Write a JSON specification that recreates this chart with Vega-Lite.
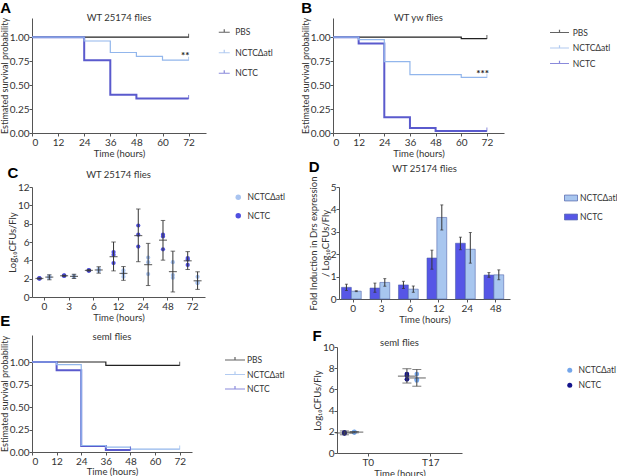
{
  "$schema": "https://vega.github.io/schema/vega-lite/v6.json",
  "background": "white",
  "padding": {"left": 0, "top": 0, "right": 0, "bottom": 0},
  "config": {
    "font": "Lato",
    "view": {"stroke": null},
    "axis": {"grid": false, "labelFontSize": 10, "titleFontSize": 9.5, "titleFontWeight": "normal", "tickSize": 3, "domainColor": "#555", "tickColor": "#555", "labelColor": "#333", "titleColor": "#333", "labelPadding": 1, "titlePadding": 1},
    "axisY": {"labelPadding": 0, "titlePadding": 0},
    "title": {"fontSize": 9.5, "fontWeight": "normal", "color": "#333"},
    "legend": {"labelFontSize": 8.5, "labelColor": "#333", "padding": 0}
  },
  "datasets": {
    "survA": [
      {"g": "PBS", "t": 0, "s": 1}, {"g": "PBS", "t": 72, "s": 1, "c": 1},
      {"g": "NCTCΔatl", "t": 0, "s": 1}, {"g": "NCTCΔatl", "t": 24, "s": 0.96}, {"g": "NCTCΔatl", "t": 36, "s": 0.84}, {"g": "NCTCΔatl", "t": 48, "s": 0.8}, {"g": "NCTCΔatl", "t": 60, "s": 0.76}, {"g": "NCTCΔatl", "t": 72, "s": 0.76, "c": 1},
      {"g": "NCTC", "t": 0, "s": 1}, {"g": "NCTC", "t": 24, "s": 0.76}, {"g": "NCTC", "t": 36, "s": 0.4}, {"g": "NCTC", "t": 48, "s": 0.36}, {"g": "NCTC", "t": 72, "s": 0.36, "c": 1}
    ],
    "survB": [
      {"g": "PBS", "t": 0, "s": 1}, {"g": "PBS", "t": 60, "s": 0.985}, {"g": "PBS", "t": 72, "s": 0.985, "c": 1},
      {"g": "NCTCΔatl", "t": 0, "s": 1}, {"g": "NCTCΔatl", "t": 12, "s": 0.975}, {"g": "NCTCΔatl", "t": 24, "s": 0.745}, {"g": "NCTCΔatl", "t": 36, "s": 0.61}, {"g": "NCTCΔatl", "t": 60, "s": 0.58}, {"g": "NCTCΔatl", "t": 72, "s": 0.58, "c": 1},
      {"g": "NCTC", "t": 0, "s": 1}, {"g": "NCTC", "t": 12, "s": 0.935}, {"g": "NCTC", "t": 24, "s": 0.165}, {"g": "NCTC", "t": 36, "s": 0.053}, {"g": "NCTC", "t": 48, "s": 0.02}, {"g": "NCTC", "t": 72, "s": 0.02, "c": 1}
    ],
    "survE": [
      {"g": "PBS", "t": 0, "s": 1}, {"g": "PBS", "t": 36, "s": 0.963}, {"g": "PBS", "t": 72, "s": 0.963, "c": 1},
      {"g": "NCTCΔatl", "t": 0, "s": 1}, {"g": "NCTCΔatl", "t": 12, "s": 0.97}, {"g": "NCTCΔatl", "t": 24, "s": 0.072}, {"g": "NCTCΔatl", "t": 36, "s": 0.055}, {"g": "NCTCΔatl", "t": 48, "s": 0.033}, {"g": "NCTCΔatl", "t": 72, "s": 0.033, "c": 1},
      {"g": "NCTC", "t": 0, "s": 1}, {"g": "NCTC", "t": 12, "s": 0.908}, {"g": "NCTC", "t": 24, "s": 0.066}, {"g": "NCTC", "t": 36, "s": 0.022}, {"g": "NCTC", "t": 48, "s": 0.022, "c": 1}
    ],
    "cfuC": [
      {"time": 0, "g": "NCTC", "v": 2.0}, {"time": 0, "g": "NCTC", "v": 2.02}, {"time": 0, "g": "NCTC", "v": 2.05},
      {"time": 0, "g": "NCTCΔatl", "v": 2.1}, {"time": 0, "g": "NCTCΔatl", "v": 2.15}, {"time": 0, "g": "NCTCΔatl", "v": 2.25},
      {"time": 3, "g": "NCTC", "v": 2.3}, {"time": 3, "g": "NCTC", "v": 2.32}, {"time": 3, "g": "NCTC", "v": 2.35},
      {"time": 3, "g": "NCTCΔatl", "v": 2.2}, {"time": 3, "g": "NCTCΔatl", "v": 2.25}, {"time": 3, "g": "NCTCΔatl", "v": 2.3},
      {"time": 6, "g": "NCTC", "v": 2.86}, {"time": 6, "g": "NCTC", "v": 2.9}, {"time": 6, "g": "NCTC", "v": 2.93},
      {"time": 6, "g": "NCTCΔatl", "v": 2.85}, {"time": 6, "g": "NCTCΔatl", "v": 2.95}, {"time": 6, "g": "NCTCΔatl", "v": 3.05},
      {"time": 12, "g": "NCTC", "v": 4.9}, {"time": 12, "g": "NCTC", "v": 4.6}, {"time": 12, "g": "NCTC", "v": 3.7},
      {"time": 12, "g": "NCTCΔatl", "v": 2.9}, {"time": 12, "g": "NCTCΔatl", "v": 2.6}, {"time": 12, "g": "NCTCΔatl", "v": 2.2},
      {"time": 24, "g": "NCTC", "v": 7.8}, {"time": 24, "g": "NCTC", "v": 6.8}, {"time": 24, "g": "NCTC", "v": 5.5},
      {"time": 24, "g": "NCTCΔatl", "v": 4.3}, {"time": 24, "g": "NCTCΔatl", "v": 3.8}, {"time": 24, "g": "NCTCΔatl", "v": 2.5},
      {"time": 48, "g": "NCTC", "v": 6.8}, {"time": 48, "g": "NCTC", "v": 6.6}, {"time": 48, "g": "NCTC", "v": 5.2},
      {"time": 48, "g": "NCTCΔatl", "v": 3.8}, {"time": 48, "g": "NCTCΔatl", "v": 2.4}, {"time": 48, "g": "NCTCΔatl", "v": 2.1},
      {"time": 72, "g": "NCTC", "v": 4.25}, {"time": 72, "g": "NCTC", "v": 4.1}, {"time": 72, "g": "NCTC", "v": 3.5},
      {"time": 72, "g": "NCTCΔatl", "v": 2.2}, {"time": 72, "g": "NCTCΔatl", "v": 1.6}, {"time": 72, "g": "NCTCΔatl", "v": 1.5}
    ],
    "sumC": [
      {"time": 0, "g": "NCTC", "m": 2.02, "lo": 1.96, "hi": 2.08}, {"time": 0, "g": "NCTCΔatl", "m": 2.17, "lo": 1.88, "hi": 2.42},
      {"time": 3, "g": "NCTC", "m": 2.32, "lo": 2.26, "hi": 2.38}, {"time": 3, "g": "NCTCΔatl", "m": 2.25, "lo": 2.02, "hi": 2.48},
      {"time": 6, "g": "NCTC", "m": 2.9, "lo": 2.82, "hi": 2.98}, {"time": 6, "g": "NCTCΔatl", "m": 2.95, "lo": 2.6, "hi": 3.3},
      {"time": 12, "g": "NCTC", "m": 4.4, "lo": 2.85, "hi": 6.0}, {"time": 12, "g": "NCTCΔatl", "m": 2.57, "lo": 1.82, "hi": 3.32},
      {"time": 24, "g": "NCTC", "m": 6.7, "lo": 3.85, "hi": 9.6}, {"time": 24, "g": "NCTCΔatl", "m": 3.53, "lo": 1.25, "hi": 5.85},
      {"time": 48, "g": "NCTC", "m": 6.2, "lo": 4.02, "hi": 8.35}, {"time": 48, "g": "NCTCΔatl", "m": 2.77, "lo": 0.55, "hi": 5.0},
      {"time": 72, "g": "NCTC", "m": 3.95, "lo": 3.0, "hi": 4.95}, {"time": 72, "g": "NCTCΔatl", "m": 1.77, "lo": 0.83, "hi": 2.75}
    ],
    "drsD": [
      {"time": 0, "g": "NCTC", "v": 0.52, "lo": 0.38, "hi": 0.66}, {"time": 0, "g": "NCTCΔatl", "v": 0.35, "lo": 0.33, "hi": 0.37},
      {"time": 3, "g": "NCTC", "v": 0.49, "lo": 0.3, "hi": 0.71}, {"time": 3, "g": "NCTCΔatl", "v": 0.74, "lo": 0.57, "hi": 0.91},
      {"time": 6, "g": "NCTC", "v": 0.63, "lo": 0.47, "hi": 0.79}, {"time": 6, "g": "NCTCΔatl", "v": 0.44, "lo": 0.3, "hi": 0.58},
      {"time": 12, "g": "NCTC", "v": 1.83, "lo": 1.33, "hi": 2.18}, {"time": 12, "g": "NCTCΔatl", "v": 3.64, "lo": 3.08, "hi": 4.2},
      {"time": 24, "g": "NCTC", "v": 2.49, "lo": 2.2, "hi": 2.76}, {"time": 24, "g": "NCTCΔatl", "v": 2.22, "lo": 1.6, "hi": 2.97},
      {"time": 48, "g": "NCTC", "v": 1.07, "lo": 0.97, "hi": 1.18}, {"time": 48, "g": "NCTCΔatl", "v": 1.08, "lo": 0.86, "hi": 1.3}
    ],
    "cfuF": [
      {"time": "T0", "g": "NCTC", "v": 1.95}, {"time": "T0", "g": "NCTC", "v": 1.85}, {"time": "T0", "g": "NCTC", "v": 1.88},
      {"time": "T0", "g": "NCTCΔatl", "v": 1.93}, {"time": "T0", "g": "NCTCΔatl", "v": 1.97}, {"time": "T0", "g": "NCTCΔatl", "v": 2.0},
      {"time": "T17", "g": "NCTC", "v": 7.45}, {"time": "T17", "g": "NCTC", "v": 6.95}, {"time": "T17", "g": "NCTC", "v": 7.3},
      {"time": "T17", "g": "NCTCΔatl", "v": 7.45}, {"time": "T17", "g": "NCTCΔatl", "v": 6.95}, {"time": "T17", "g": "NCTCΔatl", "v": 6.85}
    ],
    "sumF": [
      {"time": "T0", "g": "NCTC", "m": 1.89, "lo": 1.72, "hi": 2.08}, {"time": "T0", "g": "NCTCΔatl", "m": 1.97, "lo": 1.9, "hi": 2.03},
      {"time": "T17", "g": "NCTC", "m": 7.25, "lo": 6.6, "hi": 7.95}, {"time": "T17", "g": "NCTCΔatl", "m": 7.08, "lo": 6.3, "hi": 7.88}
    ]
  },
  "resolve": {"scale": {"color": "independent"}, "legend": {"color": "independent"}},
  "spacing": 1,
  "vconcat": [
    {
      "spacing": 28,
      "resolve": {"scale": {"color": "independent"}, "legend": {"color": "independent"}},
      "hconcat": [
        {
          "title": {"text": "A", "anchor": "start", "frame": "bounds", "font": "Liberation Sans", "fontSize": 15, "fontWeight": "bold", "color": "#000", "offset": -3},
          "resolve": {"scale": {"color": "independent"}, "legend": {"color": "independent"}},
          "hconcat": [
            {
              "title": {"text": "WT 25174 flies", "offset": -5},
              "width": 174, "height": 115,
              "data": {"name": "survA"},
              "encoding": {
                "x": {"field": "t", "type": "quantitative", "scale": {"domain": [0, 80], "nice": false}, "axis": {"values": [0, 12, 24, 36, 48, 60, 72], "title": "Time (hours)"}},
                "y": {"field": "s", "type": "quantitative", "scale": {"domain": [0, 1.2], "nice": false}, "axis": {"values": [0, 0.25, 0.5, 0.75, 1], "format": ".2f", "title": "Estimated survival probability", "titleFontSize": 9}},
                "color": {"field": "g", "type": "nominal", "scale": {"domain": ["PBS", "NCTCΔatl", "NCTC"], "range": ["#222222", "#92b6ec", "#5a5acd"]},
                  "legend": {"title": null, "orient": "none", "legendX": 188, "legendY": 10, "symbolType": "M-2,0H2M0,0V-1.1", "symbolSize": 30, "symbolStrokeWidth": 1.2, "labelOffset": 6.75, "rowPadding": 9.5}}
              },
              "layer": [
                {"transform": [{"filter": "datum.g === 'PBS'"}], "mark": {"type": "line", "interpolate": "step-after", "strokeWidth": 1.2}},
                {"transform": [{"filter": "datum.g === 'NCTC'"}], "mark": {"type": "line", "interpolate": "step-after", "strokeWidth": 2}},
                {"transform": [{"filter": "datum.g === 'NCTCΔatl'"}], "mark": {"type": "line", "interpolate": "step-after", "strokeWidth": 1.2}},
                {"transform": [{"filter": "datum.c"}], "mark": {"type": "tick", "orient": "vertical", "size": 4, "thickness": 1, "yOffset": -1.5}},
                {"data": {"values": [{"t": 70.5, "s": 0.8, "txt": "**"}]}, "mark": {"type": "text", "fontSize": 10, "fontWeight": "bold"}, "encoding": {"text": {"field": "txt"}, "color": {"value": "#222"}}}
              ]
            }
          ]
        },
        {
          "title": {"text": "B", "anchor": "start", "frame": "bounds", "font": "Liberation Sans", "fontSize": 15, "fontWeight": "bold", "color": "#000", "offset": -3},
          "resolve": {"scale": {"color": "independent"}, "legend": {"color": "independent"}},
          "hconcat": [
            {
              "title": {"text": "WT yw flies", "offset": -5},
              "width": 171, "height": 115,
              "data": {"name": "survB"},
              "encoding": {
                "x": {"field": "t", "type": "quantitative", "scale": {"domain": [0, 80], "nice": false}, "axis": {"values": [0, 12, 24, 36, 48, 60, 72], "title": "Time (hours)"}},
                "y": {"field": "s", "type": "quantitative", "scale": {"domain": [0, 1.2], "nice": false}, "axis": {"values": [0, 0.25, 0.5, 0.75, 1], "format": ".2f", "title": "Estimated survival probability", "titleFontSize": 9}},
                "color": {"field": "g", "type": "nominal", "scale": {"domain": ["PBS", "NCTCΔatl", "NCTC"], "range": ["#222222", "#92b6ec", "#5a5acd"]},
                  "legend": {"title": null, "orient": "none", "legendX": 221, "legendY": 9, "symbolType": "M-2,0H2M0,0V-0.6", "symbolSize": 90, "symbolStrokeWidth": 1.2, "labelOffset": 7.75, "rowPadding": 5.5}}
              },
              "layer": [
                {"transform": [{"filter": "datum.g === 'PBS'"}], "mark": {"type": "line", "interpolate": "step-after", "strokeWidth": 1.2}},
                {"transform": [{"filter": "datum.g === 'NCTC'"}], "mark": {"type": "line", "interpolate": "step-after", "strokeWidth": 2}},
                {"transform": [{"filter": "datum.g === 'NCTCΔatl'"}], "mark": {"type": "line", "interpolate": "step-after", "strokeWidth": 1.2}},
                {"transform": [{"filter": "datum.c"}], "mark": {"type": "tick", "orient": "vertical", "size": 4, "thickness": 1, "yOffset": -1.5}},
                {"data": {"values": [{"t": 70, "s": 0.62, "txt": "***"}]}, "mark": {"type": "text", "fontSize": 10, "fontWeight": "bold"}, "encoding": {"text": {"field": "txt"}, "color": {"value": "#222"}}}
              ]
            }
          ]
        }
      ]
    },
    {
      "spacing": -11,
      "resolve": {"scale": {"color": "independent"}, "legend": {"color": "independent"}},
      "vconcat": [
        {
          "spacing": 22,
          "resolve": {"scale": {"color": "independent"}, "legend": {"color": "independent"}},
          "hconcat": [
            {
              "title": {"text": "C", "anchor": "start", "frame": "bounds", "font": "Liberation Sans", "fontSize": 15, "fontWeight": "bold", "color": "#000", "offset": -11},
              "resolve": {"scale": {"color": "independent"}, "legend": {"color": "independent"}},
              "hconcat": [
                {
                  "title": {"text": "WT 25174 flies", "offset": 3},
                  "width": 173, "height": 110,
                  "encoding": {
                    "x": {"field": "time", "type": "ordinal", "scale": {"domain": [0, 3, 6, 12, 24, 48, 72], "paddingInner": 0, "paddingOuter": 0}, "axis": {"labelAngle": 0, "title": "Time (hours)"}},
                    "xOffset": {"field": "g", "type": "nominal", "scale": {"domain": ["NCTC", "NCTCΔatl"], "paddingInner": 0, "paddingOuter": 0.25}}
                  },
                  "layer": [
                    {"data": {"name": "cfuC"}, "mark": {"type": "point", "filled": true, "size": 18, "opacity": 1},
                      "encoding": {
                        "y": {"field": "v", "type": "quantitative", "scale": {"domain": [0, 12], "nice": false}, "axis": {"values": [0, 2, 4, 6, 8, 10, 12], "title": "Log₁₀CFUs/Fly"}},
                        "color": {"field": "g", "type": "nominal", "scale": {"domain": ["NCTCΔatl", "NCTC"], "range": ["#a9c4f0", "#4f4fe0"]},
                          "legend": {"title": null, "orient": "none", "legendX": 202, "legendY": 6, "symbolType": "circle", "symbolSize": 30, "labelOffset": 5, "rowPadding": 9.5}}
                      }},
                    {"data": {"name": "sumC"}, "mark": {"type": "rule", "color": "#333", "strokeWidth": 1}, "encoding": {"y": {"field": "lo", "type": "quantitative", "scale": {"domain": [0, 12], "nice": false}, "axis": {"values": [0, 2, 4, 6, 8, 10, 12], "title": "Log₁₀CFUs/Fly"}}, "y2": {"field": "hi"}}},
                    {"data": {"name": "sumC"}, "mark": {"type": "tick", "color": "#333", "size": 4.5, "thickness": 1}, "encoding": {"y": {"field": "lo", "type": "quantitative", "scale": {"domain": [0, 12], "nice": false}, "axis": {"values": [0, 2, 4, 6, 8, 10, 12], "title": "Log₁₀CFUs/Fly"}}}},
                    {"data": {"name": "sumC"}, "mark": {"type": "tick", "color": "#333", "size": 4.5, "thickness": 1}, "encoding": {"y": {"field": "hi", "type": "quantitative", "scale": {"domain": [0, 12], "nice": false}, "axis": {"values": [0, 2, 4, 6, 8, 10, 12], "title": "Log₁₀CFUs/Fly"}}}},
                    {"data": {"name": "sumC"}, "mark": {"type": "tick", "color": "#333", "size": 8, "thickness": 1.2}, "encoding": {"y": {"field": "m", "type": "quantitative", "scale": {"domain": [0, 12], "nice": false}, "axis": {"values": [0, 2, 4, 6, 8, 10, 12], "title": "Log₁₀CFUs/Fly"}}}}
                  ]
                }
              ]
            },
            {
              "title": {"text": "D", "anchor": "start", "frame": "bounds", "font": "Liberation Sans", "fontSize": 15, "fontWeight": "bold", "color": "#000", "offset": -11},
              "resolve": {"scale": {"color": "independent"}, "legend": {"color": "independent"}},
              "hconcat": [
                {
                  "title": {"text": "WT 25174 flies", "offset": 3},
                  "width": 171, "height": 112,
                  "data": {"name": "drsD"},
                  "encoding": {
                    "x": {"field": "time", "type": "ordinal", "scale": {"domain": [0, 3, 6, 12, 24, 48], "paddingInner": 0, "paddingOuter": 0}, "axis": {"labelAngle": 0, "title": "Time (hours)"}},
                    "xOffset": {"field": "g", "type": "nominal", "scale": {"domain": ["NCTC", "NCTCΔatl"], "paddingInner": 0.3, "paddingOuter": 0.888}}
                  },
                  "layer": [
                    {"mark": {"type": "bar", "stroke": "#4c5fa8", "strokeWidth": 0.7, "strokeOpacity": 0.8},
                      "encoding": {
                        "y": {"field": "v", "type": "quantitative", "scale": {"domain": [0, 5], "nice": false}, "axis": {"values": [0, 1, 2, 3, 4, 5], "title": ["Fold Induction in Drs expression", "/ Log₁₀CFUs/Fly"]}},
                        "color": {"field": "g", "type": "nominal", "scale": {"domain": ["NCTCΔatl", "NCTC"], "range": ["#a8c6ef", "#5656e6"]},
                          "legend": {"title": null, "orient": "none", "legendX": 225, "legendY": 4, "symbolType": "M-1,-0.45H1V0.45H-1Z", "symbolSize": 169, "symbolStrokeColor": "#4c5fa8", "symbolStrokeWidth": 0.7, "labelOffset": 2, "rowPadding": 7}}
                      }},
                    {"mark": {"type": "rule", "color": "#333", "strokeWidth": 1}, "encoding": {"y": {"field": "lo", "type": "quantitative", "scale": {"domain": [0, 5], "nice": false}, "axis": {"values": [0, 1, 2, 3, 4, 5], "title": ["Fold Induction in Drs expression", "/ Log₁₀CFUs/Fly"]}}, "y2": {"field": "hi"}}},
                    {"mark": {"type": "tick", "color": "#333", "size": 3, "thickness": 1}, "encoding": {"y": {"field": "lo", "type": "quantitative", "scale": {"domain": [0, 5], "nice": false}, "axis": {"values": [0, 1, 2, 3, 4, 5], "title": ["Fold Induction in Drs expression", "/ Log₁₀CFUs/Fly"]}}}},
                    {"mark": {"type": "tick", "color": "#333", "size": 3, "thickness": 1}, "encoding": {"y": {"field": "hi", "type": "quantitative", "scale": {"domain": [0, 5], "nice": false}, "axis": {"values": [0, 1, 2, 3, 4, 5], "title": ["Fold Induction in Drs expression", "/ Log₁₀CFUs/Fly"]}}}}
                  ]
                }
              ]
            }
          ]
        },
        {
          "spacing": 27,
          "resolve": {"scale": {"color": "independent"}, "legend": {"color": "independent"}},
          "hconcat": [
            {
              "title": {"text": "E", "anchor": "start", "frame": "bounds", "font": "Liberation Sans", "fontSize": 15, "fontWeight": "bold", "color": "#000", "offset": 3},
              "resolve": {"scale": {"color": "independent"}, "legend": {"color": "independent"}},
              "hconcat": [
                {
                  "title": {"text": "semI flies", "offset": -6},
                  "width": 160, "height": 117,
                  "data": {"name": "survE"},
                  "encoding": {
                    "x": {"field": "t", "type": "quantitative", "scale": {"domain": [0, 78], "nice": false}, "axis": {"values": [0, 12, 24, 36, 48, 60, 72], "title": "Time (hours)", "titlePadding": 0}},
                    "y": {"field": "s", "type": "quantitative", "scale": {"domain": [0, 1.3], "nice": false}, "axis": {"values": [0, 0.25, 0.5, 0.75, 1], "format": ".2f", "title": "Estimated survival probability", "titleFontSize": 9}},
                    "color": {"field": "g", "type": "nominal", "scale": {"domain": ["PBS", "NCTCΔatl", "NCTC"], "range": ["#222222", "#92b6ec", "#5a5acd"]},
                      "legend": {"title": null, "orient": "none", "legendX": 197, "legendY": 19, "symbolType": "M-2,0H2M0,0V-0.6", "symbolSize": 100, "symbolStrokeWidth": 1.2, "labelOffset": 6, "rowPadding": 3.5}}
                  },
                  "layer": [
                    {"transform": [{"filter": "datum.g === 'PBS'"}], "mark": {"type": "line", "interpolate": "step-after", "strokeWidth": 1.2}},
                    {"transform": [{"filter": "datum.g === 'NCTC'"}], "mark": {"type": "line", "interpolate": "step-after", "strokeWidth": 2}},
                    {"transform": [{"filter": "datum.g === 'NCTCΔatl'"}], "mark": {"type": "line", "interpolate": "step-after", "strokeWidth": 1.2}},
                    {"transform": [{"filter": "datum.c"}], "mark": {"type": "tick", "orient": "vertical", "size": 4, "thickness": 1, "yOffset": -1.5}}
                  ]
                }
              ]
            },
            {
              "title": {"text": "F", "anchor": "start", "frame": "bounds", "font": "Liberation Sans", "fontSize": 15, "fontWeight": "bold", "color": "#000", "offset": -9},
              "resolve": {"scale": {"color": "independent"}, "legend": {"color": "independent"}},
              "spacing": 1,
              "vconcat": [
                {"data": {"values": []}, "mark": "point", "width": 125, "height": 1},
                {
                  "title": {"text": "semI flies", "offset": -5},
                  "width": 125, "height": 106,
                  "encoding": {
                    "x": {"field": "time", "type": "nominal", "scale": {"domain": ["T0", "T17"], "paddingInner": 0, "paddingOuter": 0}, "axis": {"labelAngle": 0, "title": "Time (hours)"}},
                    "xOffset": {"field": "g", "type": "nominal", "scale": {"domain": ["NCTC", "NCTCΔatl"], "paddingInner": 0, "paddingOuter": 0.49}}
                  },
                  "layer": [
                    {"data": {"name": "cfuF"}, "mark": {"type": "point", "filled": true, "size": 22, "opacity": 1},
                      "encoding": {
                        "y": {"field": "v", "type": "quantitative", "scale": {"domain": [0, 10], "nice": false}, "axis": {"values": [0, 2, 4, 6, 8, 10], "title": "Log₁₀CFUs/Fly"}},
                        "color": {"field": "g", "type": "nominal", "scale": {"domain": ["NCTCΔatl", "NCTC"], "range": ["#74a6ea", "#14148c"]},
                          "legend": {"title": null, "orient": "none", "legendX": 228.5, "legendY": 19, "symbolType": "circle", "symbolSize": 25, "labelOffset": 4.5, "rowPadding": 6}}
                      }},
                    {"data": {"name": "sumF"}, "mark": {"type": "rule", "color": "#444", "strokeWidth": 1}, "encoding": {"y": {"field": "lo", "type": "quantitative", "scale": {"domain": [0, 10], "nice": false}, "axis": {"values": [0, 2, 4, 6, 8, 10], "title": "Log₁₀CFUs/Fly"}}, "y2": {"field": "hi"}}},
                    {"data": {"name": "sumF"}, "mark": {"type": "tick", "color": "#444", "size": 9, "thickness": 1}, "encoding": {"y": {"field": "lo", "type": "quantitative", "scale": {"domain": [0, 10], "nice": false}, "axis": {"values": [0, 2, 4, 6, 8, 10], "title": "Log₁₀CFUs/Fly"}}}},
                    {"data": {"name": "sumF"}, "mark": {"type": "tick", "color": "#444", "size": 9, "thickness": 1}, "encoding": {"y": {"field": "hi", "type": "quantitative", "scale": {"domain": [0, 10], "nice": false}, "axis": {"values": [0, 2, 4, 6, 8, 10], "title": "Log₁₀CFUs/Fly"}}}},
                    {"data": {"name": "sumF"}, "mark": {"type": "tick", "color": "#444", "size": 18, "thickness": 1.2}, "encoding": {"y": {"field": "m", "type": "quantitative", "scale": {"domain": [0, 10], "nice": false}, "axis": {"values": [0, 2, 4, 6, 8, 10], "title": "Log₁₀CFUs/Fly"}}}}
                  ]
                }
              ]
            }
          ]
        }
      ]
    }
  ]
}
